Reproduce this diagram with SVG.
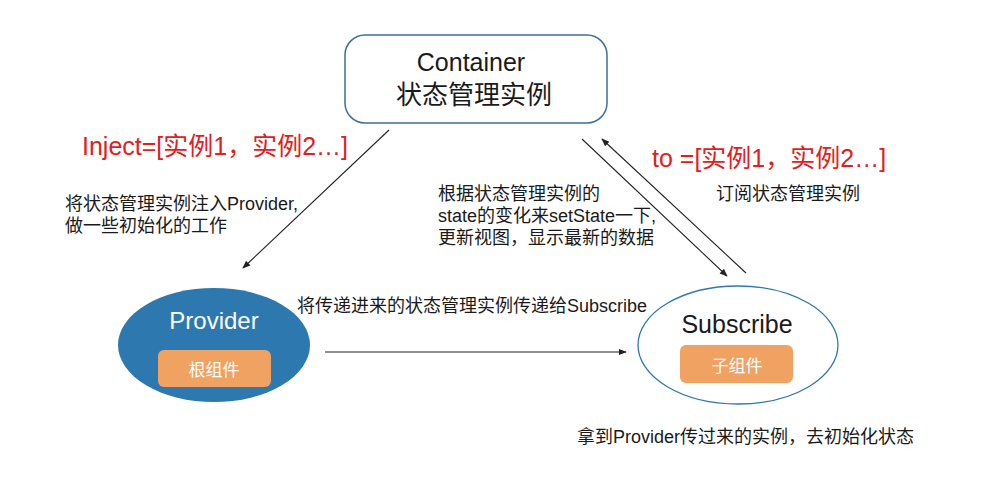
<svg xmlns="http://www.w3.org/2000/svg" width="1005" height="492" viewBox="0 0 1005 492">
<style>
  text { font-family: "Liberation Sans", "Noto Sans CJK SC", sans-serif; }
  .lbl { font-size: 18px; fill: #1a1a1a; }
  .red { font-size: 25px; fill: #e0201c; }
  .conn { stroke: #222; stroke-width: 1.1; fill: none; marker-end: url(#arr); }
  .tag { fill: #f0a263; }
  .tagt { font-size: 17px; fill: #ffffff; text-anchor: middle; }
</style>
<defs>
  <marker id="arr" viewBox="0 0 10 10" refX="9" refY="5" markerWidth="8" markerHeight="8" markerUnits="userSpaceOnUse" orient="auto">
    <path d="M0,1 L10,5 L0,9 Z" fill="#222"/>
  </marker>
</defs>
<rect width="1005" height="492" fill="#ffffff"/>

<g id="container">
  <rect x="345" y="35" width="262" height="88" rx="20" fill="#ffffff" stroke="#3b6f9e" stroke-width="1.5"/>
  <text x="471" y="71" font-size="25" text-anchor="middle" fill="#1a1a1a">Container</text>
  <text x="474" y="104" font-size="26" text-anchor="middle" fill="#1a1a1a">状态管理实例</text>
</g>

<g id="provider">
  <ellipse cx="214" cy="345" rx="96" ry="57" fill="#2e78b0"/>
  <text x="214" y="329" font-size="24" text-anchor="middle" fill="#ffffff">Provider</text>
  <rect class="tag" x="158" y="350" width="113" height="37" rx="6"/>
  <text class="tagt" x="214" y="376">根组件</text>
</g>

<g id="subscribe">
  <ellipse cx="738" cy="345" rx="100" ry="59" fill="#ffffff" stroke="#2e78b0" stroke-width="1.3"/>
  <text x="737" y="333" font-size="25" text-anchor="middle" fill="#1a1a1a">Subscribe</text>
  <rect class="tag" x="680" y="345" width="113" height="38" rx="6"/>
  <text class="tagt" x="737" y="372">子组件</text>
</g>

<g id="connectors">
  <line class="conn" x1="389" y1="130" x2="243" y2="268"/>
  <line class="conn" x1="582" y1="139" x2="727" y2="276"/>
  <line class="conn" x1="746" y1="273" x2="602" y2="139"/>
  <line class="conn" x1="325" y1="352" x2="626" y2="352"/>
</g>

<g id="labels">
  <text class="red" x="82" y="155">Inject=[实例1，实例2…]</text>
  <text class="red" x="652" y="167">to =[实例1，实例2…]</text>
  <text class="lbl" x="65" y="210">将状态管理实例注入Provider,</text>
  <text class="lbl" x="65" y="232">做一些初始化的工作</text>
  <text class="lbl" x="438" y="200">根据状态管理实例的</text>
  <text class="lbl" x="438" y="222">state的变化来setState一下,</text>
  <text class="lbl" x="438" y="244">更新视图，显示最新的数据</text>
  <text class="lbl" x="716" y="200">订阅状态管理实例</text>
  <text class="lbl" x="297" y="312">将传递进来的状态管理实例传递给Subscribe</text>
  <text class="lbl" x="577" y="443">拿到Provider传过来的实例，去初始化状态</text>
</g>
</svg>
